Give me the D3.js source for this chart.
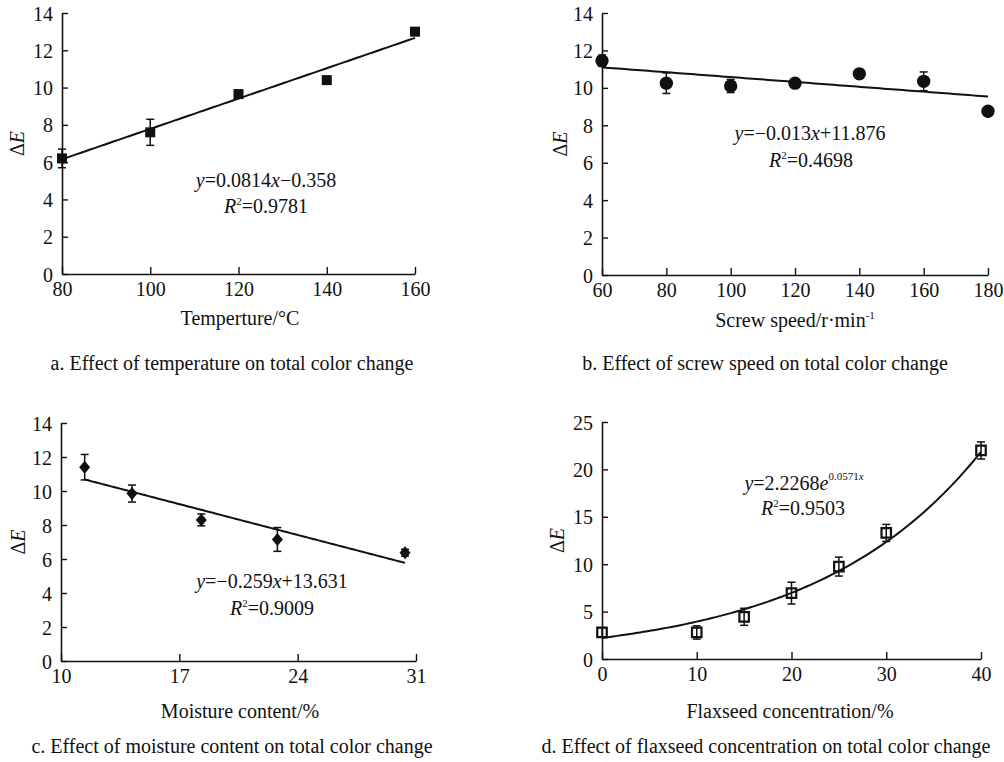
<!DOCTYPE html>
<html>
<head>
<meta charset="utf-8">
<script src="https://cdn.jsdelivr.net/npm/d3@7"></script>
<style>
body { margin: 0; background: #fff; }
svg text { font-family: "Liberation Serif", "Times New Roman", serif; fill: #111; }
</style>
</head>
<body>
<svg width="1004" height="762"></svg>
<script>
// a. temperature
var tempX = [80, 100, 120, 140, 160];
var tempY = [6.2, 7.6, 9.65, 10.4, 13.0];
var tempErr = [0.5, 0.7, 0.2, 0.15, 0.2];

// b. screw speed
var speedX = [60, 80, 100, 120, 140, 160, 180];
var speedY = [11.45, 10.25, 10.1, 10.25, 10.75, 10.35, 8.75];
var speedErr = [0.3, 0.55, 0.35, 0.2, 0.2, 0.5, 0.2];

// c. moisture content
var moistX = [11.4, 14.2, 18.3, 22.8, 30.35];
var moistY = [11.4, 9.85, 8.3, 7.15, 6.37];
var moistErr = [0.75, 0.5, 0.35, 0.7, 0.2];

// d. flaxseed concentration
var flaxX = [0, 10, 15, 20, 25, 30, 40];
var flaxY = [2.8, 2.8, 4.45, 6.95, 9.75, 13.3, 22.0];
var flaxErr = [0.5, 0.7, 0.9, 1.15, 1.0, 0.9, 0.9];

var yTicks14 = [0, 2, 4, 6, 8, 10, 12, 14];

var FS = 20;
var svg = d3.select("svg");

var panels = [
  {
    xs: tempX, ys: tempY, err: tempErr, marker: "square",
    xDom: [80, 160], xTicks: [80, 100, 120, 140, 160],
    yDom: [0, 14], yTicks: yTicks14,
    xr: [62, 415], yr: [274, 13],
    fit: function(x) { return 0.0814 * x - 0.358; }, fitDom: [80, 160],
    xlabel: "Temperture/\u00b0C", xlabelX: 240, xlabelY: 325,
    caption: "a. Effect of temperature on total color change", capX: 232, capY: 370,
    eq: [{t: "y", i: true}, {t: "=0.0814"}, {t: "x", i: true}, {t: "\u22120.358"}],
    eqX: 266, eqY: 187, r2: "0.9781", r2X: 266, r2Y: 213, labX: 17
  },
  {
    xs: speedX, ys: speedY, err: speedErr, marker: "circle",
    xDom: [60, 180], xTicks: [60, 80, 100, 120, 140, 160, 180],
    yDom: [0, 14], yTicks: yTicks14,
    xr: [602, 988], yr: [275, 13],
    fit: function(x) { return -0.013 * x + 11.876; }, fitDom: [60, 180],
    xlabel: "Screw speed/r\u00b7min", sup: "-1", xlabelX: 795, xlabelY: 327,
    caption: "b. Effect of screw speed on total color change", capX: 765, capY: 370,
    eq: [{t: "y", i: true}, {t: "=\u22120.013"}, {t: "x", i: true}, {t: "+11.876"}],
    eqX: 810, eqY: 140, r2: "0.4698", r2X: 811, r2Y: 167, labX: 560
  },
  {
    xs: moistX, ys: moistY, err: moistErr, marker: "diamond",
    xDom: [10, 31], xTicks: [10, 17, 24, 31],
    yDom: [0, 14], yTicks: yTicks14,
    xr: [61, 416], yr: [661, 423],
    fit: function(x) { return -0.259 * x + 13.631; }, fitDom: [11.4, 30.35],
    xlabel: "Moisture content/%", xlabelX: 240, xlabelY: 718,
    caption: "c. Effect of moisture content on total color change", capX: 232, capY: 753,
    eq: [{t: "y", i: true}, {t: "=\u22120.259"}, {t: "x", i: true}, {t: "+13.631"}],
    eqX: 272, eqY: 588, r2: "0.9009", r2X: 272, r2Y: 615, labX: 18
  },
  {
    xs: flaxX, ys: flaxY, err: flaxErr, marker: "hollow",
    xDom: [0, 40], xTicks: [0, 10, 20, 30, 40],
    yDom: [0, 25], yTicks: [0, 5, 10, 15, 20, 25],
    xr: [602, 981], yr: [659, 422],
    fit: function(x) { return 2.2268 * Math.exp(0.0571 * x); }, fitDom: [0, 40],
    xlabel: "Flaxseed concentration/%", xlabelX: 790, xlabelY: 718,
    caption: "d. Effect of flaxseed concentration on total color change", capX: 766, capY: 753,
    eq: [{t: "y", i: true}, {t: "=2.2268"}, {t: "e", i: true}],
    eqSup: "0.0571", eqX: 804, eqY: 490, r2: "0.9503", r2X: 803, r2Y: 515, labX: 557
  }
];

panels.forEach(function(p) {
  var x = d3.scaleLinear().domain(p.xDom).range(p.xr);
  var y = d3.scaleLinear().domain(p.yDom).range(p.yr);
  var g = svg.append("g");

  // axes, ticks pointing inward
  var xAxis = d3.axisBottom(x).tickValues(p.xTicks).tickSizeInner(-7).tickSizeOuter(0).tickPadding(8);
  var yAxis = d3.axisLeft(y).tickValues(p.yTicks).tickSizeInner(-6).tickSizeOuter(0).tickPadding(9);

  var gx = g.append("g").attr("transform", "translate(0," + p.yr[0] + ")").call(xAxis);
  var gy = g.append("g").attr("transform", "translate(" + p.xr[0] + ",0)").call(yAxis);
  [gx, gy].forEach(function(a) {
    a.select(".domain").attr("stroke", "#111").attr("stroke-width", 1.6);
    a.selectAll(".tick line").attr("stroke", "#111").attr("stroke-width", 1.4);
    a.selectAll(".tick text").attr("font-size", FS).attr("font-family", "Liberation Serif").attr("fill", "#111");
  });
  gy.selectAll(".tick text").attr("dy", "0.35em");

  // fit line
  var fx = d3.range(0, 101).map(function(i) {
    return p.fitDom[0] + (p.fitDom[1] - p.fitDom[0]) * i / 100;
  });
  g.append("path")
    .datum(fx)
    .attr("fill", "none")
    .attr("stroke", "#111")
    .attr("stroke-width", 2)
    .attr("d", d3.line().x(function(d) { return x(d); }).y(function(d) { return y(p.fit(d)); }));

  var pts = p.xs.map(function(v, i) { return {x: v, y: p.ys[i], e: p.err[i]}; });

  // error bars
  var eb = g.selectAll("g.err").data(pts).enter().append("g")
    .attr("stroke", "#111").attr("stroke-width", 1.5);
  eb.append("line")
    .attr("x1", function(d) { return x(d.x); }).attr("x2", function(d) { return x(d.x); })
    .attr("y1", function(d) { return y(d.y - d.e); }).attr("y2", function(d) { return y(d.y + d.e); });
  [-1, 1].forEach(function(s) {
    eb.append("line")
      .attr("x1", function(d) { return x(d.x) - 4; }).attr("x2", function(d) { return x(d.x) + 4; })
      .attr("y1", function(d) { return y(d.y + s * d.e); }).attr("y2", function(d) { return y(d.y + s * d.e); });
  });

  // markers
  var m = g.selectAll("path.mk").data(pts).enter().append("path")
    .attr("transform", function(d) { return "translate(" + x(d.x) + "," + y(d.y) + ")"; });
  if (p.marker === "square") {
    m.attr("d", d3.symbol(d3.symbolSquare, 100)).attr("fill", "#111");
  } else if (p.marker === "circle") {
    m.attr("d", d3.symbol(d3.symbolCircle, 140)).attr("fill", "#111");
  } else if (p.marker === "diamond") {
    m.attr("d", "M0,-6.5L5.5,0L0,6.5L-5.5,0Z").attr("fill", "#111");
  } else {
    m.attr("d", d3.symbol(d3.symbolSquare, 90)).attr("fill", "none")
      .attr("stroke", "#111").attr("stroke-width", 2.2);
  }

  // axis labels
  var xl = g.append("text").attr("x", p.xlabelX).attr("y", p.xlabelY)
    .attr("text-anchor", "middle").attr("font-size", FS).text(p.xlabel);
  if (p.sup) xl.append("tspan").attr("dy", -8).attr("font-size", 11).text(p.sup);

  var yc = (p.yr[0] + p.yr[1]) / 2;
  var yl = g.append("text").attr("transform", "translate(" + (p.labX + 7) + "," + yc + ") rotate(-90)")
    .attr("text-anchor", "middle").attr("font-size", FS);
  yl.append("tspan").text("\u0394");
  yl.append("tspan").attr("font-style", "italic").text("E");

  // equation
  var eq = g.append("text").attr("x", p.eqX).attr("y", p.eqY).attr("text-anchor", "middle").attr("font-size", FS);
  p.eq.forEach(function(s) {
    eq.append("tspan").attr("font-style", s.i ? "italic" : "normal").text(s.t);
  });
  if (p.eqSup) {
    eq.append("tspan").attr("dy", -10).attr("font-size", 11).text(p.eqSup);
    eq.append("tspan").attr("font-size", 11).attr("font-style", "italic").text("x");
  }

  var r2 = g.append("text").attr("x", p.r2X).attr("y", p.r2Y).attr("text-anchor", "middle").attr("font-size", FS);
  r2.append("tspan").attr("font-style", "italic").text("R");
  r2.append("tspan").attr("dy", -8).attr("font-size", 11).text("2");
  r2.append("tspan").attr("dy", 8).text("=" + p.r2);

  // caption
  g.append("text").attr("x", p.capX).attr("y", p.capY).attr("text-anchor", "middle")
    .attr("font-size", FS).text(p.caption);
});
</script>
</body>
</html>
